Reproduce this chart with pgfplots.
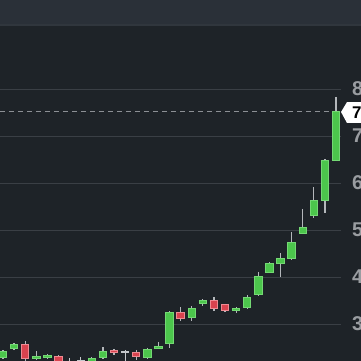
\documentclass[border=0pt]{standalone}
\usepackage{fontspec}
\setmainfont{Liberation Sans}
\usepackage{pgfplots}
\pgfplotsset{compat=1.18}
\usepackage{pgfplotstable}

\definecolor{bg}{HTML}{1E2328}
\definecolor{hdr}{HTML}{2A3038}
\definecolor{hdrline}{HTML}{30363D}
\definecolor{gridc}{HTML}{3A3F45}
\definecolor{lbl}{HTML}{9A9DA1}
\definecolor{upfill}{HTML}{4CC64C}
\definecolor{upedge}{HTML}{74D874}
\definecolor{dnfill}{HTML}{D9434F}
\definecolor{dnedge}{HTML}{EE8A92}
\definecolor{wick}{HTML}{B4B7BB}
\definecolor{dojic}{HTML}{C4C7CB}
\definecolor{dashc}{HTML}{8C9095}

% rising sessions: index, open, high, low, close
\pgfplotstableread{
i  o    h    l    c
0  2.28 2.44 2.26 2.43
1  2.47 2.60 2.45 2.57
3  2.26 2.43 2.23 2.32
4  2.28 2.36 2.26 2.34
8  2.15 2.30 2.12 2.28
9  2.28 2.51 2.26 2.43
13 2.28 2.49 2.26 2.47
14 2.47 2.62 2.47 2.53
15 2.57 3.28 2.49 3.26
17 3.13 3.38 3.06 3.34
18 3.43 3.53 3.38 3.51
21 3.28 3.36 3.24 3.34
22 3.34 3.62 3.32 3.57
23 3.62 4.11 3.60 4.02
24 4.09 4.32 4.09 4.30
25 4.28 4.51 4.00 4.40
26 4.38 4.96 4.36 4.74
27 4.91 5.45 4.91 5.06
28 5.30 5.91 5.26 5.64
29 5.62 6.51 5.36 6.49
30 6.47 7.83 6.47 7.53
}\upT

% falling sessions
\pgfplotstableread{
i  o    h    l    c
2  2.57 2.64 2.21 2.26
5  2.32 2.34 2.15 2.19
10 2.45 2.47 2.34 2.38
12 2.40 2.45 2.23 2.30
16 3.26 3.36 3.06 3.11
19 3.51 3.57 3.28 3.32
20 3.43 3.43 3.26 3.28
}\dnT

% unchanged sessions
\pgfplotstableread{
i  o    h    l    c
6  2.20 2.28 2.15 2.20
7  2.22 2.30 2.15 2.22
11 2.40 2.45 2.15 2.40
}\flatT

\pgfplotsset{
  candle/.style={draw=none, no markers, forget plot,
    error bars/.cd, y dir=minus, y explicit, error mark=none,
    error bar style={draw=#1, line cap=butt}},
}

\begin{document}
\begin{tikzpicture}
\begin{axis}[
  at={(0,0)}, anchor=south west,
  scale only axis, width=361bp, height=361bp,
  xmin=-0.27, xmax=32.25, ymin=2.2128, ymax=9.894,
  axis line style={draw=none},
  xtick=\empty, ytick={3,4,5,6,7,8},
  major tick length=0pt,
  yticklabel pos=right,
  yticklabel style={anchor=west, inner sep=0pt, xshift=-9bp, text=lbl,
    font=\fontsize{20}{20}\selectfont\bfseries},
  /pgf/number format/assume math mode=true,
  axis background/.style={fill=bg},
  clip mode=individual,
]
% header band
\fill[hdr] (rel axis cs:0,0.9307) rectangle (rel axis cs:1,1);
\draw[hdrline, line width=1.5bp] (rel axis cs:0,0.9307) -- (rel axis cs:1,0.9307);

% price grid
\pgfplotsinvokeforeach{3,4,5,6,7,8}{
  \draw[gridc, line width=0.9bp] (axis cs:-0.27,#1) -- (axis cs:30.45,#1);
}
% last price line
\draw[dashc, line width=0.9bp, dash pattern=on 5bp off 4bp] (axis cs:-0.27,7.53) -- (axis cs:30.45,7.53);

% wicks
\addplot[candle=wick, error bar style={line width=1.2bp}]
  table[x=i, y=h, y error expr=\thisrow{h}-\thisrow{l}] {\upT};
\addplot[candle=wick, error bar style={line width=1.2bp}]
  table[x=i, y=h, y error expr=\thisrow{h}-\thisrow{l}] {\dnT};
\addplot[candle=dojic, error bar style={line width=1.2bp}]
  table[x=i, y=h, y error expr=\thisrow{h}-\thisrow{l}] {\flatT};

% rising bodies: edge then fill
\addplot[candle=upedge, error bar style={line width=8.4bp}]
  table[x=i, y=c, y error expr=\thisrow{c}-\thisrow{o}] {\upT};
\addplot[candle=upfill, error bar style={line width=6.4bp}]
  table[x=i, y expr=\thisrow{c}-0.02, y error expr=\thisrow{c}-\thisrow{o}-0.04] {\upT};

% falling bodies
\addplot[candle=dnedge, error bar style={line width=8.4bp}]
  table[x=i, y=o, y error expr=\thisrow{o}-\thisrow{c}] {\dnT};
\addplot[candle=dnfill, error bar style={line width=6.4bp}]
  table[x=i, y expr=\thisrow{o}-0.02, y error expr=\thisrow{o}-\thisrow{c}-0.04] {\dnT};

% unchanged bodies
\addplot[candle=dojic, error bar style={line width=8.4bp}]
  table[x=i, y expr=\thisrow{c}+0.016, y error expr=0.032] {\flatT};

% last price tag
\fill[white] (axis cs:30.45,7.511) -- (axis cs:30.99,7.723) -- (axis cs:32.4,7.723)
  -- (axis cs:32.4,7.277) -- (axis cs:30.99,7.277) -- cycle;
\node[anchor=west, inner sep=0pt, text=black, font=\fontsize{17}{17}\selectfont\bfseries]
  at (axis cs:31.44,7.49) {7};
\end{axis}
\pgfresetboundingbox
\path (0,0) rectangle (361bp,361bp);
\end{tikzpicture}
\end{document}
